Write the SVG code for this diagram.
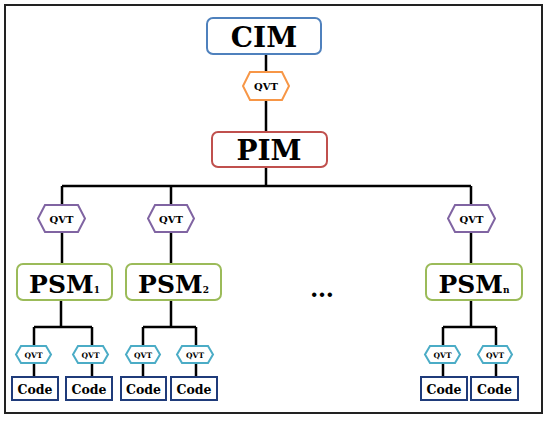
<svg xmlns="http://www.w3.org/2000/svg" width="550" height="422" viewBox="0 0 550 422">
<style>
.ln{stroke:#000;stroke-width:2.5;fill:none}
.t{font-family:'DejaVu Serif','Liberation Serif',serif;font-weight:bold;fill:#000;text-anchor:middle}
.box{fill:#fff;stroke-width:2}
.hex{fill:#fff;stroke-width:2}
.code{font-size:12.5px}
.sq{font-size:7.5px}
</style>
<rect x="5" y="5" width="537" height="408" fill="#fff" stroke="#222" stroke-width="2"/>
<g id="connectors">
<path class="ln" d="M266 54V132M266 167V186M62 186H471M62 186V264M171 186V264M471 186V264"/>
<path class="ln" d="M61 300V327M34 327H92M34 327V377M92 327V377"/>
<path class="ln" d="M171 300V327M143 327H196M143 327V377M196 327V377"/>
<path class="ln" d="M471 300V327M443 327H496M443 327V377M496 327V377"/>
</g>
<g id="cim"><rect class="box" x="207" y="18" width="114" height="36" rx="6" stroke="#4f81bd"/><text class="t" x="264" y="47" font-size="28">CIM</text></g>
<g id="qvt0"><polygon class="hex" points="250,72 282,72 289,86 282,100 250,100 243,86" stroke="#f79646"/><text class="t" x="266" y="90" font-size="10">QVT</text></g>
<g id="pim"><rect class="box" x="212" y="132" width="115" height="35" rx="6" stroke="#c0504d"/><text class="t" x="269" y="160" font-size="28">PIM</text></g>
<g id="qvt1"><polygon class="hex" points="45,205 78,205 85,218.5 78,232 45,232 38,218.5" stroke="#8064a2"/><text class="t" x="61.5" y="222.5" font-size="10">QVT</text></g>
<g id="qvt2"><polygon class="hex" points="155,205 187,205 194,218.5 187,232 155,232 148,218.5" stroke="#8064a2"/><text class="t" x="171" y="222.5" font-size="10">QVT</text></g>
<g id="qvtn"><polygon class="hex" points="455,205 488,205 495,218.5 488,232 455,232 448,218.5" stroke="#8064a2"/><text class="t" x="471.5" y="222.5" font-size="10">QVT</text></g>
<g id="psm1"><rect class="box" x="17" y="264" width="95" height="36" rx="6" stroke="#9bbb59"/><text class="t" x="64.5" y="293" font-size="25">PSM<tspan font-size="9">1</tspan></text></g>
<g id="psm2"><rect class="box" x="126" y="264" width="95" height="36" rx="6" stroke="#9bbb59"/><text class="t" x="173.5" y="293" font-size="25">PSM<tspan font-size="9">2</tspan></text></g>
<g id="psmn"><rect class="box" x="426" y="264" width="96" height="36" rx="6" stroke="#9bbb59"/><text class="t" x="474" y="293" font-size="25">PSM<tspan font-size="9">n</tspan></text></g>
<g id="dots"><text class="t" x="322" y="297" font-size="24">…</text></g>
<g id="qvt11"><polygon class="hex" points="21,346 46,346 51,354.5 46,363 21,363 16,354.5" stroke="#4bacc6"/><text class="t sq" x="33.5" y="357.5">QVT</text></g>
<g id="qvt12"><polygon class="hex" points="78,346 103,346 108,354.5 103,363 78,363 73,354.5" stroke="#4bacc6"/><text class="t sq" x="90.5" y="357.5">QVT</text></g>
<g id="qvt21"><polygon class="hex" points="131,346 155,346 160,354.5 155,363 131,363 126,354.5" stroke="#4bacc6"/><text class="t sq" x="143" y="357.5">QVT</text></g>
<g id="qvt22"><polygon class="hex" points="182,346 208,346 213,354.5 208,363 182,363 177,354.5" stroke="#4bacc6"/><text class="t sq" x="195" y="357.5">QVT</text></g>
<g id="qvtn1"><polygon class="hex" points="430,346 455,346 460,354.5 455,363 430,363 425,354.5" stroke="#4bacc6"/><text class="t sq" x="442.5" y="357.5">QVT</text></g>
<g id="qvtn2"><polygon class="hex" points="483,346 507,346 512,354.5 507,363 483,363 478,354.5" stroke="#4bacc6"/><text class="t sq" x="495" y="357.5">QVT</text></g>
<g id="code11"><rect class="box" x="12" y="377" width="46" height="23" stroke="#1f3b7a"/><text class="t code" x="35" y="393.5">Code</text></g>
<g id="code12"><rect class="box" x="66" y="377" width="46" height="23" stroke="#1f3b7a"/><text class="t code" x="89" y="393.5">Code</text></g>
<g id="code21"><rect class="box" x="121" y="377" width="45" height="23" stroke="#1f3b7a"/><text class="t code" x="143.5" y="393.5">Code</text></g>
<g id="code22"><rect class="box" x="171" y="377" width="46" height="23" stroke="#1f3b7a"/><text class="t code" x="194" y="393.5">Code</text></g>
<g id="coden1"><rect class="box" x="421" y="377" width="46" height="23" stroke="#1f3b7a"/><text class="t code" x="444" y="393.5">Code</text></g>
<g id="coden2"><rect class="box" x="471" y="377" width="47" height="23" stroke="#1f3b7a"/><text class="t code" x="494.5" y="393.5">Code</text></g>
</svg>
